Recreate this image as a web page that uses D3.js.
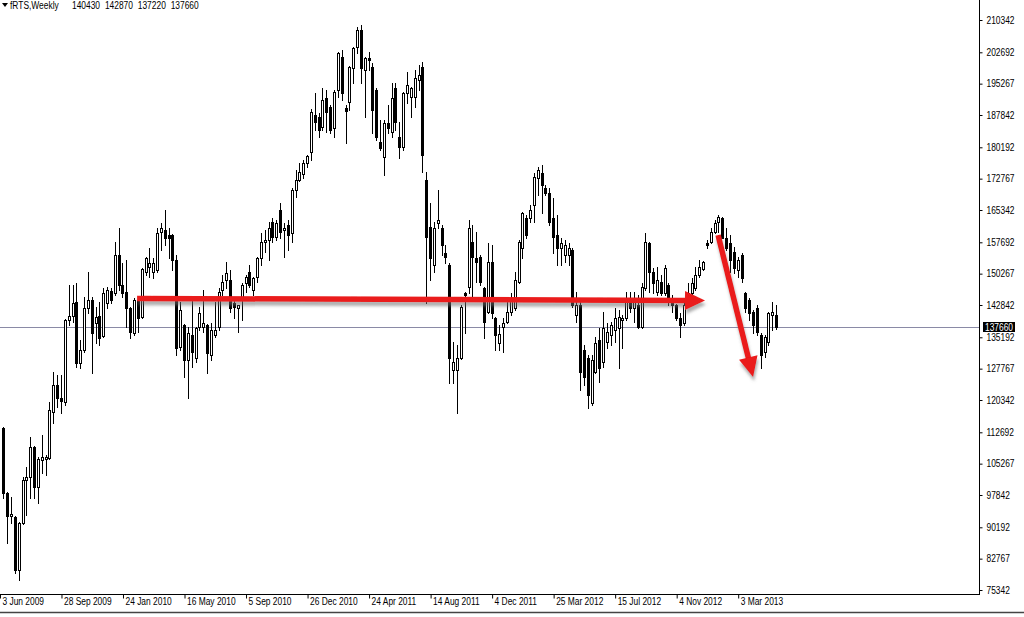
<!DOCTYPE html>
<html><head><meta charset="utf-8">
<script src="https://cdn.jsdelivr.net/npm/d3@7"></script>
<style>
body{margin:0;background:#fff;overflow:hidden}
svg{display:block}
text{font-family:"Liberation Sans",Arial,sans-serif;font-size:10px;fill:#000}
</style>
</head><body>
<svg id="chart" width="1024" height="617"></svg>
<script>
const symbolTitle = "fRTS,Weekly";
const lastOHLC = [140430, 142870, 137220, 137660];

const open = [113710,98320,92870,92630,80080,91210,101400,102110,109210,99740,106130,106370,106610,117500,123900,120820,119870,139290,140240,143550,129110,132190,142130,144030,138580,140240,135500,143320,146160,145690,154690,147580,145920,142130,136210,144030,140000,150660,151840,150660,151130,160130,160610,159420,159420,153500,132900,138110,129820,135740,130290,137630,137630,138110,131000,135740,137630,146400,148770,148770,143320,142130,144500,148060,150660,146400,149480,153980,157760,158240,162500,158950,165340,160610,161790,159900,170080,172450,173870,176470,179080,187840,187370,185000,191870,189740,184770,193760,201580,189500,190920,198970,203950,207970,198500,201340,199210,193760,181450,177900,185950,183820,194240,182630,180260,193050,192110,192110,196130,199210,172450,161320,152320,162260,161080,155160,152320,127450,127450,130290,145690,147110,157760,153980,154210,146870,141180,153030,139760,133840,137630,138820,141180,142130,148290,156340,163450,163450,166530,172920,174110,170550,169370,163450,159420,156340,154690,154690,155870,140480,142840,132190,130290,119630,126970,134550,129340,134080,135740,136920,137400,139290,139760,143320,142130,142840,137630,146870,157530,150660,145920,148290,145690,147580,144500,142840,139760,138580,142840,145690,146870,149950,151370,157530,157760,160130,162500,163450,158710,157530,155400,151130,154690,145690,144030,141180,142130,135740,131710,134080,140480,140430];
const high = [114000,98560,97370,92870,91500,102110,104480,111580,109450,106840,112050,107320,119870,126970,126270,126270,139500,147580,147580,148060,134550,144740,150660,144740,142370,143550,146870,147100,146870,157760,161080,152790,153500,142370,144500,144740,151600,154210,156340,153980,161080,162260,165340,161080,159600,154690,143550,138300,137630,144500,137630,142370,146400,138300,138580,143550,146870,149950,153030,151130,144740,142840,148060,149950,152320,149480,154210,159900,160610,162500,163450,162980,166990,162260,162980,170550,174820,176470,177190,178370,189260,193050,188320,194240,193760,190210,193760,202760,203240,190210,199500,203950,208690,209160,201580,202760,200160,194240,186660,186660,190210,195420,195420,186190,193290,198030,194470,198500,199690,200400,174340,166990,162500,170080,161790,157060,152790,134080,133370,142840,145900,162980,161790,160130,154690,147110,157530,157060,139900,138110,139760,143550,145690,150660,158240,164900,164160,166530,174110,175530,176000,171260,170550,168190,164160,158710,158240,157530,156340,145920,143550,133370,131000,131000,135260,137400,141180,138580,138820,142130,141660,140480,145920,145920,145920,145210,148060,159900,157760,151610,151840,149950,152320,148060,145210,143000,140950,143550,148060,149240,151840,153500,153270,158240,161080,162980,164160,163690,161080,159420,156580,154210,155160,145920,144500,141660,142840,136210,135740,141180,143550,142870];
const low = [97130,86470,91210,79370,77710,90900,93110,97130,97130,95950,103060,102580,106400,114900,118690,117270,119160,138110,138820,128160,127920,131710,140950,126740,133840,133370,135260,142130,143320,145210,146400,144740,137630,135030,135740,136450,139800,149950,149480,149240,150660,155870,157060,153980,151130,131000,132190,125790,120820,128160,129340,136920,136450,126740,129820,135260,136920,145210,146870,141180,139760,136450,139290,145920,147110,145210,148290,152320,155400,153500,157760,158240,158710,154210,155870,157760,168420,172200,172920,175530,177190,184290,182630,184290,183820,183580,182630,192110,191400,181210,189030,195420,202530,195420,187370,198500,183580,181920,179550,173630,183580,182630,184290,177660,179550,190690,187370,189740,193760,174340,143320,148770,150660,161080,154690,152790,124370,124370,117270,130100,136210,145690,144740,148290,147580,135030,141000,139760,132190,132190,131710,138600,140480,141660,148060,153980,158710,162500,162500,168900,164630,168900,161790,155160,152320,152320,153030,152320,142370,138820,122710,123900,118450,119160,126740,124610,128160,132660,133370,134080,127920,132660,139290,141180,138820,137400,137400,146400,145920,145690,145210,145210,145210,142840,141180,139290,135260,138110,142370,144740,146400,149480,151130,156340,157530,159900,160130,158710,155870,150660,150420,149480,148290,141180,139290,136210,135740,127920,130530,133370,136920,137220];
const close = [98320,92870,93350,80080,91210,101400,102110,109210,99740,106370,106840,106840,117980,123900,120820,120100,139290,140240,143320,129110,132190,142130,144030,136210,140000,135030,145690,146400,144030,154690,147580,145690,142130,136450,144030,139760,151370,153980,152790,152790,159900,161080,158710,158710,153500,132660,141660,129820,136210,131710,137400,140950,138580,131480,136920,136920,145920,148290,150420,142130,142370,142840,147580,149480,147580,149240,153980,157760,158240,161080,158950,162260,160130,161080,159420,170080,172450,174340,176470,178130,188550,186190,184290,191400,188550,184290,193290,202530,193050,188790,199210,203710,207970,198970,201340,200870,189030,182630,180030,185950,184770,191870,186190,180260,193050,194950,194240,196610,197320,178370,158950,153980,161080,162980,157060,154210,130290,129340,130290,142370,145210,161080,154210,153030,148290,138820,153030,140950,135740,135970,138580,141180,144030,148770,157760,164630,159420,165340,173160,174820,171260,169370,162500,158950,156340,157530,157060,156340,142840,142840,126970,125790,121530,129820,133840,127920,137400,136450,138110,139760,140000,139760,143550,142130,144030,137630,147110,157760,150660,148060,148770,145690,151610,144500,142840,139760,138110,142840,145690,148060,149950,151840,153030,157060,160130,162260,163690,158710,156340,153500,151610,153500,149240,142130,140950,138110,136450,131000,135260,140950,141180,137660];

const priceTicks = [210342,202692,195267,187842,180192,172767,165342,157692,150267,142842,135192,127767,120342,112692,105267,97842,90192,82767,75342];
const timeLabels = ["3 Jun 2009","28 Sep 2009","24 Jan 2010","16 May 2010","5 Sep 2010","26 Dec 2010","24 Apr 2011","14 Aug 2011","4 Dec 2011","25 Mar 2012","15 Jul 2012","4 Nov 2012","3 Mar 2013"];
const timeLabelBars = [-1,15,31,47,63,79,95,111,127,143,159,175,191];

// annotation arrows: [start bar, start price, tip bar, tip price]
const arrowStartBar = [34.8, 185.9];
const arrowStartPrice = [144400, 159400];
const arrowTipBar = [182.5, 195.0];
const arrowTipPrice = [143900, 125800];

const svg = d3.select("#chart");
const W = 1024, H = 617;
const plotRight = 979.5, plotBottom = 594.5;
const squeeze = 0.84;

const x = d3.scaleLinear().domain([0, open.length - 1]).range([3.3, 3.3 + (open.length - 1) * 3.845]);
const y = d3.scaleLinear().domain([75342, 210342]).range([590, 20]);

svg.append("rect").attr("width", W).attr("height", H).attr("fill", "#fff");

const defs = svg.append("defs");
const f = defs.append("filter").attr("id", "shadow").attr("x", "-20%").attr("y", "-50%").attr("width", "140%").attr("height", "200%");
f.append("feDropShadow").attr("dx", 1).attr("dy", 4).attr("stdDeviation", 1.6).attr("flood-color", "#6d6d6d").attr("flood-opacity", 0.55);

// last price line
const lp = Math.round(y(close[close.length - 1])) + 0.5;
svg.append("line").attr("x1", 0).attr("x2", plotRight).attr("y1", lp).attr("y2", lp)
  .attr("stroke", "#8a8aa6").attr("stroke-width", 1);

// candles
const g = svg.append("g");
d3.range(open.length).forEach(i => {
  const px = Math.round(x(i));
  const bull = close[i] >= open[i];
  g.append("line").attr("x1", px + 0.5).attr("x2", px + 0.5)
    .attr("y1", Math.round(y(high[i]))).attr("y2", Math.round(y(low[i])) + 1)
    .attr("stroke", "#000").attr("stroke-width", 1);
  const top = Math.round(y(Math.max(open[i], close[i])));
  const bot = Math.round(y(Math.min(open[i], close[i])));
  g.append("rect").attr("x", px - 0.5).attr("y", top + 0.5)
    .attr("width", 2).attr("height", Math.max(0, bot - top))
    .attr("fill", bull ? "#fff" : "#000").attr("stroke", "#000").attr("stroke-width", 1);
});

// arrows
const ag = svg.append("g").attr("filter", "url(#shadow)");
arrowStartBar.forEach((sb, k) => {
  const p0 = [x(sb), y(arrowStartPrice[k])];
  const p1 = [x(arrowTipBar[k]), y(arrowTipPrice[k])];
  const dx = p1[0] - p0[0], dy = p1[1] - p0[1];
  const len = Math.hypot(dx, dy);
  const ux = dx / len, uy = dy / len;
  const L = 20, Wd = 9.5;
  const b = [p1[0] - ux * L, p1[1] - uy * L];
  ag.append("line").attr("x1", p0[0]).attr("y1", p0[1]).attr("x2", b[0] + ux * 2).attr("y2", b[1] + uy * 2)
    .attr("stroke", "#ea1a1a").attr("stroke-width", 5.5).attr("stroke-linecap", "butt");
  ag.append("polygon").attr("points", [
    p1, [b[0] - uy * Wd, b[1] + ux * Wd], [b[0] + uy * Wd, b[1] - ux * Wd]
  ].map(p => p.join(",")).join(" ")).attr("fill", "#ea1a1a");
});

// right price axis
const ya = d3.axisRight(y).tickValues(priceTicks).tickSize(3).tickPadding(4).tickFormat(d3.format("d"));
const yg = svg.append("g").attr("transform", `translate(${plotRight},0)`).call(ya);
yg.select(".domain").remove();
yg.selectAll("text").attr("font-size", 10).attr("fill", "#000");
yg.selectAll("line").attr("stroke", "#000");
svg.append("line").attr("x1", plotRight).attr("x2", plotRight).attr("y1", 0).attr("y2", plotBottom + 0.5).attr("stroke", "#000");

// bottom time axis
const xa = d3.axisBottom(x).tickValues(timeLabelBars).tickSize(4).tickFormat((d, i) => timeLabels[i]);
const xg = svg.append("g").attr("transform", `translate(0,${plotBottom})`).call(xa);
xg.select(".domain").remove();
xg.selectAll(".tick line").attr("stroke", "#000").attr("transform", "translate(0.5,0)");
xg.selectAll(".tick text").attr("text-anchor", "start").attr("x", 2.5).attr("y", 3).attr("dy", "0.71em").attr("font-size", 10).attr("fill", "#000");
svg.append("line").attr("x1", 0).attr("x2", plotRight).attr("y1", plotBottom).attr("y2", plotBottom).attr("stroke", "#000");

// last price tag
svg.append("rect").attr("x", 983).attr("y", lp - 5.5).attr("width", 32).attr("height", 10).attr("fill", "#000");
svg.append("text").attr("x", 985).attr("y", lp + 3.5).style("fill", "#fff").text(close[close.length - 1]);

// header
svg.append("path").attr("d", "M2,3 L8,3 L5,7 Z").attr("fill", "#000");
svg.append("text").attr("x", 10).attr("y", 8.5).text(symbolTitle);
svg.append("text").attr("x", 72).attr("y", 8.5).attr("word-spacing", 3).text(lastOHLC.join(" "));

// window bottom border
svg.append("line").attr("x1", 0).attr("x2", W).attr("y1", 612.5).attr("y2", 612.5).attr("stroke", "#444").attr("stroke-width", 1.5);

// condense all text to mimic the narrow terminal font
svg.selectAll("text").each(function() {
  const w = this.getComputedTextLength();
  if (w > 0) d3.select(this).attr("textLength", w * squeeze).attr("lengthAdjust", "spacingAndGlyphs");
});
</script>
</body></html>
